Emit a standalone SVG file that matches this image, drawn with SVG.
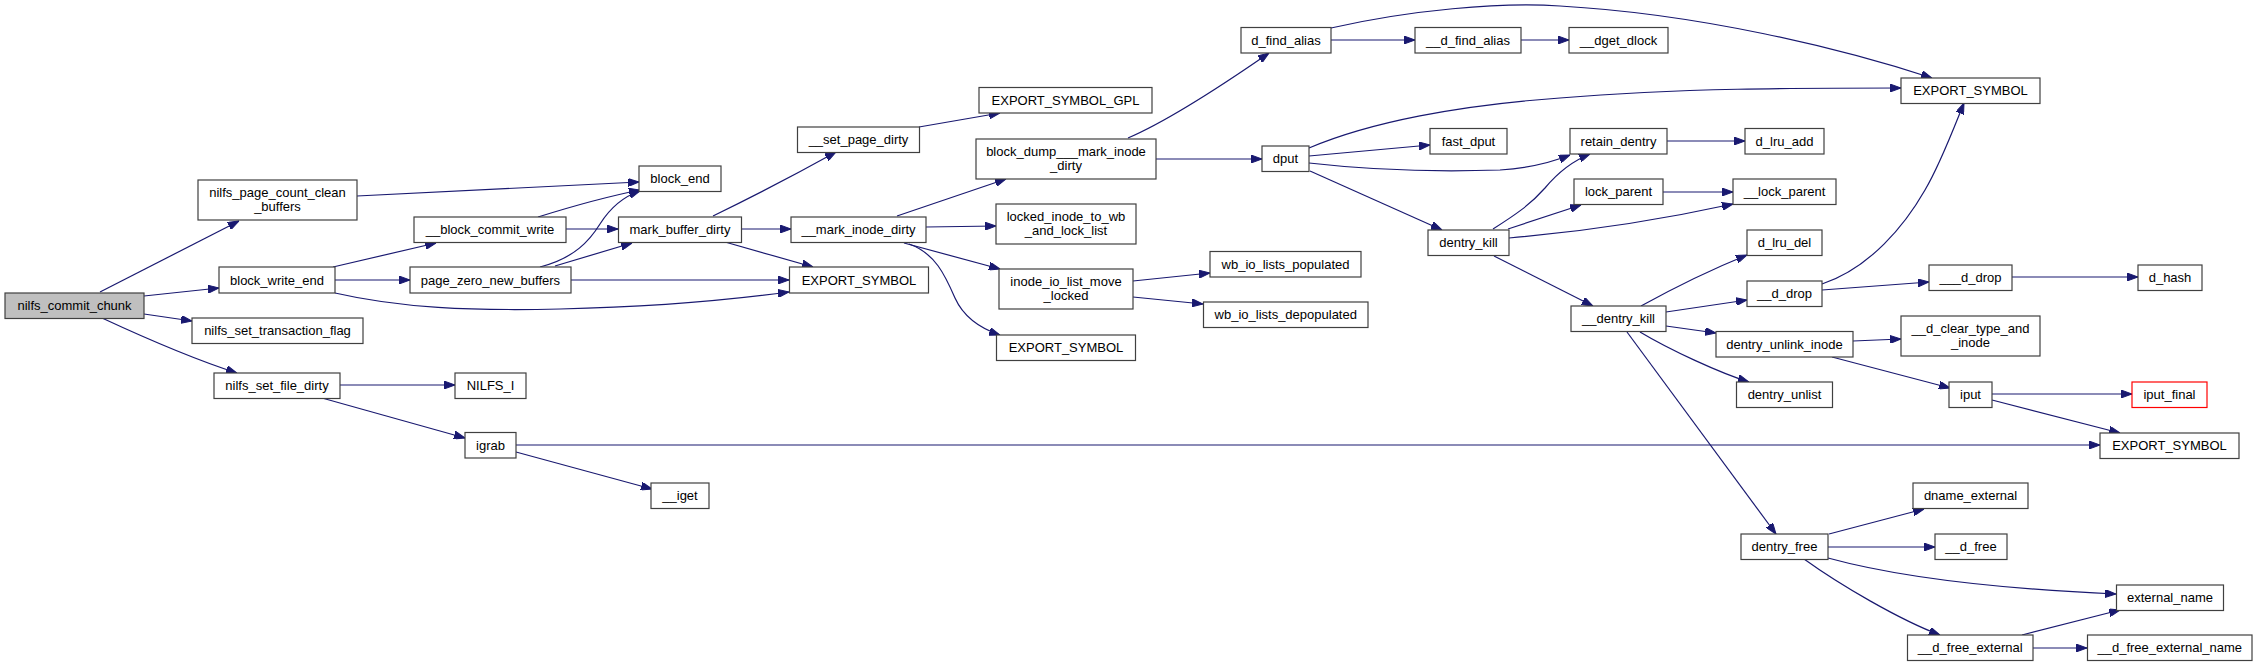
<svg xmlns="http://www.w3.org/2000/svg" width="2257" height="667" viewBox="0 0 2257 667">
<defs>
<marker id="ah" markerUnits="userSpaceOnUse" markerWidth="11" markerHeight="8" refX="11" refY="4" orient="auto">
<path d="M0,0 L11,4 L0,8 z" fill="#191970" stroke="#191970" stroke-width="1"/>
</marker>
<style>
.n rect{fill:#ffffff;stroke:#404040;stroke-width:1.2}
.n.root rect{fill:#bfbfbf}
.n.red rect{stroke:#ff0000}
.n text{font-family:"Liberation Sans",Arial,sans-serif;font-size:13px;fill:#000000;text-anchor:middle}
#edges path{fill:none;stroke:#191970;stroke-width:1.2;marker-end:url(#ah)}
</style>
</defs>
<rect x="0" y="0" width="2257" height="667" fill="#ffffff"/>
<g id="edges">
<path d="M100,292 L239,221"/>
<path d="M144,296 L219,288"/>
<path d="M144,314 L192,321"/>
<path d="M102,318 C130,331 190,358 237,373"/>
<path d="M333,267 L436,243"/>
<path d="M335,280 L410,280"/>
<path d="M335,293 C400,308 470,311 560,309 C650,307 730,300 789,292"/>
<path d="M357,196 L639,182"/>
<path d="M538,217 C570,207 605,197 640,190"/>
<path d="M566,229 L618,229"/>
<path d="M540,267 C575,258 590,240 600,224 C612,205 625,196 640,191"/>
<path d="M555,266 L632,243"/>
<path d="M571,280 L789,280"/>
<path d="M713,216 C750,198 800,172 836,152"/>
<path d="M741,229 L791,229"/>
<path d="M725,242 L813,267"/>
<path d="M919,127 L1000,113"/>
<path d="M897,216 L1006,179"/>
<path d="M926,227 L996,226"/>
<path d="M904,243 L1000,269"/>
<path d="M909,244 C935,253 945,275 955,298 C965,320 985,330 1000,335"/>
<path d="M1128,138 C1170,120 1230,80 1269,53"/>
<path d="M1156,159 L1262,159"/>
<path d="M1331,28 C1410,10 1500,2 1560,6 C1700,14 1840,48 1932,78"/>
<path d="M1331,40 L1415,40"/>
<path d="M1521,40 L1569,40"/>
<path d="M1309,148 C1370,122 1460,105 1560,98 C1680,88 1800,88 1901,88"/>
<path d="M1309,156 L1430,145"/>
<path d="M1309,163 C1370,170 1440,172 1500,170 C1530,168 1555,161 1570,155"/>
<path d="M1310,171 L1442,230"/>
<path d="M1493,229 C1515,215 1530,205 1545,188 C1560,170 1575,160 1590,154"/>
<path d="M1508,229 L1581,205"/>
<path d="M1509,238 C1580,232 1660,220 1733,204"/>
<path d="M1667,141 L1745,141"/>
<path d="M1663,192 L1733,192"/>
<path d="M1494,256 L1593,306"/>
<path d="M1641,306 C1670,290 1710,270 1747,255"/>
<path d="M1666,312 L1747,300"/>
<path d="M1666,326 L1716,333"/>
<path d="M1640,332 C1670,350 1720,373 1749,382"/>
<path d="M1627,332 L1776,534"/>
<path d="M1822,284 C1870,268 1905,225 1925,190 C1940,165 1955,125 1964,103"/>
<path d="M1822,290 L1929,282"/>
<path d="M2012,277 L2138,277"/>
<path d="M1853,341 L1901,339"/>
<path d="M1832,357 L1950,388"/>
<path d="M1992,394 L2132,394"/>
<path d="M1992,400 L2120,433"/>
<path d="M516,445 L2100,445"/>
<path d="M516,452 L652,489"/>
<path d="M340,385 L455,385"/>
<path d="M322,398 L465,438"/>
<path d="M1133,281 L1210,273"/>
<path d="M1133,297 L1203,304"/>
<path d="M1829,534 L1924,509"/>
<path d="M1828,547 L1935,547"/>
<path d="M1828,558 C1890,575 1980,588 2116,594"/>
<path d="M1804,559 C1840,585 1900,620 1940,635"/>
<path d="M2022,635 L2120,610"/>
<path d="M2033,648 L2087,648"/>
</g>
<g id="n_nilfs_commit_chunk" class="n root"><rect x="5" y="293" width="139" height="25.5"/><text x="74.5" y="310">nilfs_commit_chunk</text></g>
<g id="n_nilfs_page_count_clean_buffers" class="n"><rect x="198" y="180" width="159" height="40"/><text x="277.5" y="196.5">nilfs_page_count_clean</text><text x="277.5" y="211">_buffers</text></g>
<g id="n_block_write_end" class="n"><rect x="219" y="267" width="116" height="26"/><text x="277" y="284.5">block_write_end</text></g>
<g id="n_nilfs_set_transaction_flag" class="n"><rect x="192" y="318" width="171" height="25.5"/><text x="277.5" y="335">nilfs_set_transaction_flag</text></g>
<g id="n_nilfs_set_file_dirty" class="n"><rect x="214" y="373" width="126" height="25.5"/><text x="277" y="390">nilfs_set_file_dirty</text></g>
<g id="n_block_end" class="n"><rect x="639" y="166" width="82" height="25.5"/><text x="680" y="183">block_end</text></g>
<g id="n___block_commit_write" class="n"><rect x="414" y="217" width="152" height="25.5"/><text x="490" y="234">__block_commit_write</text></g>
<g id="n_page_zero_new_buffers" class="n"><rect x="410" y="267" width="161" height="26"/><text x="490.5" y="284.5">page_zero_new_buffers</text></g>
<g id="n_NILFS_I" class="n"><rect x="455" y="373" width="71" height="25.5"/><text x="490.5" y="390">NILFS_I</text></g>
<g id="n_igrab" class="n"><rect x="465" y="432.5" width="51" height="25.5"/><text x="490.5" y="449.5">igrab</text></g>
<g id="n___iget" class="n"><rect x="651" y="483" width="58" height="25.5"/><text x="680" y="500">__iget</text></g>
<g id="n_mark_buffer_dirty" class="n"><rect x="618.5" y="217" width="123" height="25.5"/><text x="680" y="234">mark_buffer_dirty</text></g>
<g id="n_EXPORT_SYMBOL_1" class="n"><rect x="789.5" y="267" width="139" height="26"/><text x="859" y="284.5">EXPORT_SYMBOL</text></g>
<g id="n___set_page_dirty" class="n"><rect x="797.5" y="127" width="122" height="25.5"/><text x="858.5" y="144">__set_page_dirty</text></g>
<g id="n_EXPORT_SYMBOL_GPL" class="n"><rect x="979" y="87.5" width="173" height="25.5"/><text x="1065.5" y="104.5">EXPORT_SYMBOL_GPL</text></g>
<g id="n_block_dump___mark_inode_dirty" class="n"><rect x="976" y="139" width="180" height="40"/><text x="1066" y="155.5">block_dump___mark_inode</text><text x="1066" y="170">_dirty</text></g>
<g id="n___mark_inode_dirty" class="n"><rect x="791" y="217" width="135" height="25.5"/><text x="858.5" y="234">__mark_inode_dirty</text></g>
<g id="n_locked_inode_to_wb_and_lock_list" class="n"><rect x="996" y="204" width="140" height="40"/><text x="1066" y="220.5">locked_inode_to_wb</text><text x="1066" y="235">_and_lock_list</text></g>
<g id="n_inode_io_list_move_locked" class="n"><rect x="999" y="269" width="134" height="40"/><text x="1066" y="285.5">inode_io_list_move</text><text x="1066" y="300">_locked</text></g>
<g id="n_EXPORT_SYMBOL_2" class="n"><rect x="996.5" y="335" width="139" height="25.5"/><text x="1066" y="352">EXPORT_SYMBOL</text></g>
<g id="n_d_find_alias" class="n"><rect x="1241" y="27.5" width="90" height="25.5"/><text x="1286" y="44.5">d_find_alias</text></g>
<g id="n___d_find_alias" class="n"><rect x="1415" y="27.5" width="106" height="25.5"/><text x="1468" y="44.5">__d_find_alias</text></g>
<g id="n___dget_dlock" class="n"><rect x="1569" y="27.5" width="99" height="25.5"/><text x="1618.5" y="44.5">__dget_dlock</text></g>
<g id="n_dput" class="n"><rect x="1262" y="146" width="47" height="25.5"/><text x="1285.5" y="163">dput</text></g>
<g id="n_fast_dput" class="n"><rect x="1430" y="128.5" width="77" height="25.5"/><text x="1468.5" y="145.5">fast_dput</text></g>
<g id="n_retain_dentry" class="n"><rect x="1570" y="128.5" width="97" height="25.5"/><text x="1618.5" y="145.5">retain_dentry</text></g>
<g id="n_d_lru_add" class="n"><rect x="1745" y="128.5" width="79" height="25.5"/><text x="1784.5" y="145.5">d_lru_add</text></g>
<g id="n_lock_parent" class="n"><rect x="1574" y="179" width="89" height="25.5"/><text x="1618.5" y="196">lock_parent</text></g>
<g id="n___lock_parent" class="n"><rect x="1733" y="179" width="103" height="25.5"/><text x="1784.5" y="196">__lock_parent</text></g>
<g id="n_dentry_kill" class="n"><rect x="1428" y="230" width="81" height="25.5"/><text x="1468.5" y="247">dentry_kill</text></g>
<g id="n_wb_io_lists_populated" class="n"><rect x="1210" y="251.5" width="151" height="25.5"/><text x="1285.5" y="268.5">wb_io_lists_populated</text></g>
<g id="n_wb_io_lists_depopulated" class="n"><rect x="1203.5" y="302" width="164.5" height="25.5"/><text x="1285.75" y="319">wb_io_lists_depopulated</text></g>
<g id="n_EXPORT_SYMBOL_3" class="n"><rect x="1901" y="78" width="139" height="25.5"/><text x="1970.5" y="95">EXPORT_SYMBOL</text></g>
<g id="n___dentry_kill" class="n"><rect x="1571" y="306" width="95" height="25.5"/><text x="1618.5" y="323">__dentry_kill</text></g>
<g id="n_d_lru_del" class="n"><rect x="1747" y="230" width="75" height="25.5"/><text x="1784.5" y="247">d_lru_del</text></g>
<g id="n___d_drop" class="n"><rect x="1747" y="281" width="75" height="25.5"/><text x="1784.5" y="298">__d_drop</text></g>
<g id="n____d_drop" class="n"><rect x="1929" y="265" width="83" height="25.5"/><text x="1970.5" y="282">___d_drop</text></g>
<g id="n_d_hash" class="n"><rect x="2138" y="265" width="64" height="25.5"/><text x="2170" y="282">d_hash</text></g>
<g id="n_dentry_unlink_inode" class="n"><rect x="1716" y="331.5" width="137" height="25.5"/><text x="1784.5" y="348.5">dentry_unlink_inode</text></g>
<g id="n___d_clear_type_and_inode" class="n"><rect x="1901" y="316" width="139" height="40"/><text x="1970.5" y="332.5">__d_clear_type_and</text><text x="1970.5" y="347">_inode</text></g>
<g id="n_dentry_unlist" class="n"><rect x="1736.5" y="382" width="96" height="25.5"/><text x="1784.5" y="399">dentry_unlist</text></g>
<g id="n_iput" class="n"><rect x="1949" y="382" width="43" height="25.5"/><text x="1970.5" y="399">iput</text></g>
<g id="n_iput_final" class="n red"><rect x="2132" y="382" width="75" height="25.5"/><text x="2169.5" y="399">iput_final</text></g>
<g id="n_EXPORT_SYMBOL_4" class="n"><rect x="2100" y="433" width="139" height="25.5"/><text x="2169.5" y="450">EXPORT_SYMBOL</text></g>
<g id="n_dentry_free" class="n"><rect x="1741" y="534" width="87" height="25.5"/><text x="1784.5" y="551">dentry_free</text></g>
<g id="n_dname_external" class="n"><rect x="1913" y="483" width="115" height="25.5"/><text x="1970.5" y="500">dname_external</text></g>
<g id="n___d_free" class="n"><rect x="1935" y="534" width="72" height="25.5"/><text x="1971" y="551">__d_free</text></g>
<g id="n_external_name" class="n"><rect x="2116.5" y="585" width="107" height="25.5"/><text x="2170" y="602">external_name</text></g>
<g id="n___d_free_external" class="n"><rect x="1907.5" y="635" width="125.5" height="25.5"/><text x="1970.25" y="652">__d_free_external</text></g>
<g id="n___d_free_external_name" class="n"><rect x="2087.5" y="635" width="164.5" height="25.5"/><text x="2169.75" y="652">__d_free_external_name</text></g>
</svg>
